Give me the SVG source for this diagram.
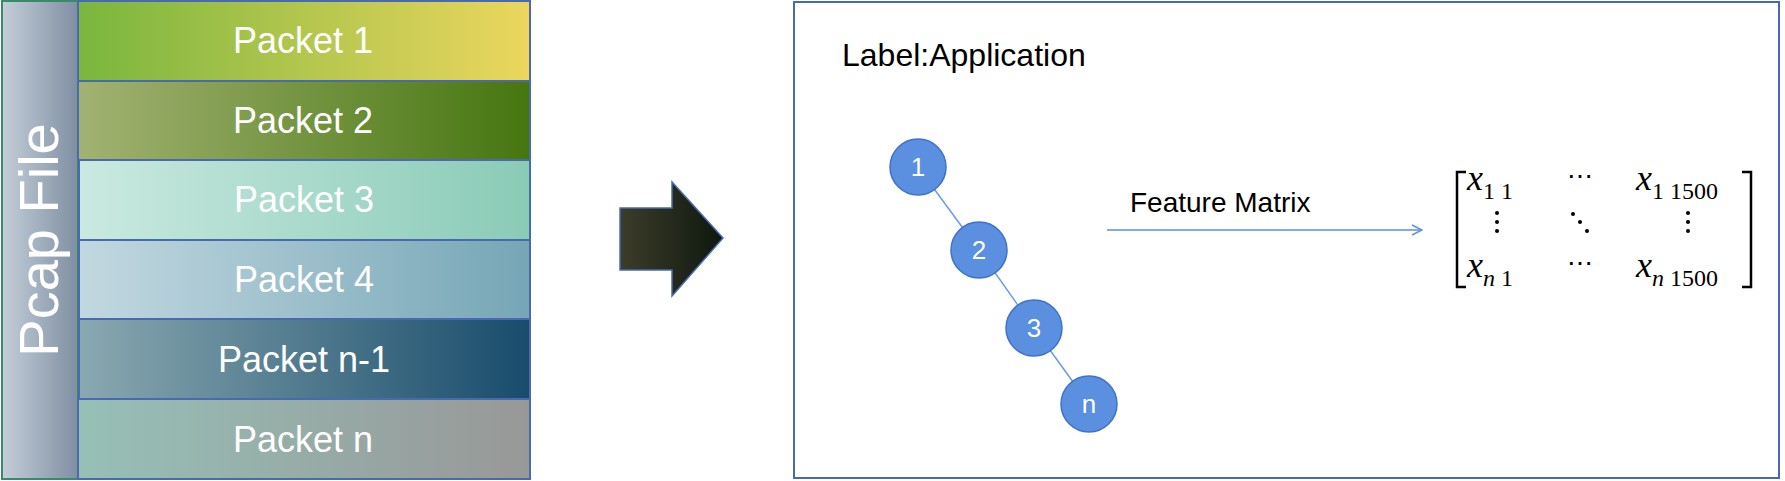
<svg xmlns="http://www.w3.org/2000/svg" width="1785" height="481" viewBox="0 0 1785 481">
<style>
.pk{stroke:#4a6ab0;stroke-width:2}
.pt{font-family:"Liberation Sans",Arial,sans-serif;font-size:36px;fill:#fff;text-anchor:middle}
.nd{fill:#5b8fe0;stroke:#3f72c8;stroke-width:1.5}
.nt{font-family:"Liberation Sans",Arial,sans-serif;font-size:26px;fill:#fff;text-anchor:middle}
.m{font-family:"Liberation Serif","Times New Roman",serif;fill:#000}
.mi{font-style:italic;font-size:36px}
.ms{font-size:24px}
.md{font-size:26px}
</style>
<defs>
<linearGradient id="gb"><stop offset="0" stop-color="#c4ced9"/><stop offset="1" stop-color="#7f8fa2"/></linearGradient>
<linearGradient id="g1"><stop offset="0" stop-color="#7ab63e"/><stop offset="1" stop-color="#ecd65e"/></linearGradient>
<linearGradient id="g2"><stop offset="0" stop-color="#a2b272"/><stop offset="1" stop-color="#467610"/></linearGradient>
<linearGradient id="g3"><stop offset="0" stop-color="#cae9e1"/><stop offset="1" stop-color="#8acbb6"/></linearGradient>
<linearGradient id="g4"><stop offset="0" stop-color="#c2d8e0"/><stop offset="1" stop-color="#76a6b6"/></linearGradient>
<linearGradient id="g5"><stop offset="0" stop-color="#8aa8b0"/><stop offset="1" stop-color="#184c6c"/></linearGradient>
<linearGradient id="g6"><stop offset="0" stop-color="#96c0b6"/><stop offset="1" stop-color="#989898"/></linearGradient>
<linearGradient id="ga"><stop offset="0" stop-color="#3c3c2a"/><stop offset="1" stop-color="#0e180e"/></linearGradient>
<marker id="ah" viewBox="0 0 12 12" refX="11" refY="6" markerWidth="12" markerHeight="12" markerUnits="userSpaceOnUse" orient="auto"><path d="M1,1 L11,6 L1,11" fill="none" stroke="#5b8fe0" stroke-width="1.5"/></marker>
</defs>
<rect width="1785" height="481" fill="#fff"/>
<g id="pcap">
<rect x="2" y="1" width="76" height="478" fill="url(#gb)" stroke="#3a8a6a" stroke-width="2"/>
<text transform="translate(58,240) rotate(-90)" font-family="Liberation Sans,Arial,sans-serif" font-size="56" fill="#fff" text-anchor="middle">Pcap File</text>
</g>
<g id="packets">
<rect class="pk" x="78" y="1" width="452" height="80" fill="url(#g1)"/>
<text class="pt" x="303" y="53">Packet 1</text>
<rect class="pk" x="78" y="81" width="452" height="79" fill="url(#g2)"/>
<text class="pt" x="303" y="133">Packet 2</text>
<rect class="pk" x="79" y="160" width="451" height="80" fill="url(#g3)"/>
<text class="pt" x="304" y="212" fill="#f2f6f4">Packet 3</text>
<rect class="pk" x="79" y="240" width="451" height="79" fill="url(#g4)"/>
<text class="pt" x="304" y="292">Packet 4</text>
<rect class="pk" x="79" y="319" width="451" height="80" fill="url(#g5)"/>
<text class="pt" x="304" y="372">Packet n-1</text>
<rect class="pk" x="78" y="399" width="452" height="80" fill="url(#g6)"/>
<text class="pt" x="303" y="452">Packet n</text>
</g>
<g id="bigarrow">
<polygon points="620,208 672,208 672,182 723,238 672,296 672,270 620,270" fill="url(#ga)" stroke="#4a6ab0" stroke-width="1.5"/>
</g>
<g id="panel">
<rect x="794" y="2" width="985" height="476" fill="#fff" stroke="#4a6ab0" stroke-width="2"/>
<text x="842" y="66" font-family="Liberation Sans,Arial,sans-serif" font-size="32" fill="#000">Label:Application</text>
<text x="1130" y="212" font-family="Liberation Sans,Arial,sans-serif" font-size="28" fill="#000">Feature Matrix</text>
</g>
<g id="connectors" stroke="#6a9ae8" stroke-width="1.5" fill="none">
<line x1="918" y1="167" x2="979" y2="250"/>
<line x1="979" y1="250" x2="1034" y2="328"/>
<line x1="1034" y1="328" x2="1089" y2="404"/>
<line x1="1107" y1="230" x2="1422" y2="230" stroke="#5b8fe0" marker-end="url(#ah)"/>
</g>
<g id="n1"><circle class="nd" cx="918" cy="167" r="28"/><text class="nt" x="918" y="176">1</text></g>
<g id="n2"><circle class="nd" cx="979" cy="250" r="28"/><text class="nt" x="979" y="259">2</text></g>
<g id="n3"><circle class="nd" cx="1034" cy="328" r="28"/><text class="nt" x="1034" y="337">3</text></g>
<g id="nn"><circle class="nd" cx="1089" cy="404" r="28"/><text class="nt" x="1089" y="413">n</text></g>
<g id="matrix">
<path d="M1466,172 H1457 V287 H1466 M1742,172 H1751 V287 H1742" fill="none" stroke="#000" stroke-width="2.5"/>
<text class="m mi" x="1467" y="190">x</text><text class="m ms" x="1483" y="199">1 1</text>
<text class="m md" x="1580" y="185" text-anchor="middle">⋯</text>
<text class="m mi" x="1636" y="190">x</text><text class="m ms" x="1652" y="199">1 1500</text>
<g fill="#000">
<circle cx="1497" cy="213" r="2"/><circle cx="1497" cy="222" r="2"/><circle cx="1497" cy="231" r="2"/>
<circle cx="1573" cy="214" r="2"/><circle cx="1580" cy="222" r="2"/><circle cx="1587" cy="231" r="2"/>
<circle cx="1688" cy="213" r="2"/><circle cx="1688" cy="222" r="2"/><circle cx="1688" cy="231" r="2"/>
</g>
<text class="m mi" x="1467" y="277">x</text><text class="m ms" x="1483" y="286"><tspan font-style="italic">n</tspan> 1</text>
<text class="m md" x="1580" y="272" text-anchor="middle">⋯</text>
<text class="m mi" x="1636" y="277">x</text><text class="m ms" x="1652" y="286"><tspan font-style="italic">n</tspan> 1500</text>
</g>
</svg>
